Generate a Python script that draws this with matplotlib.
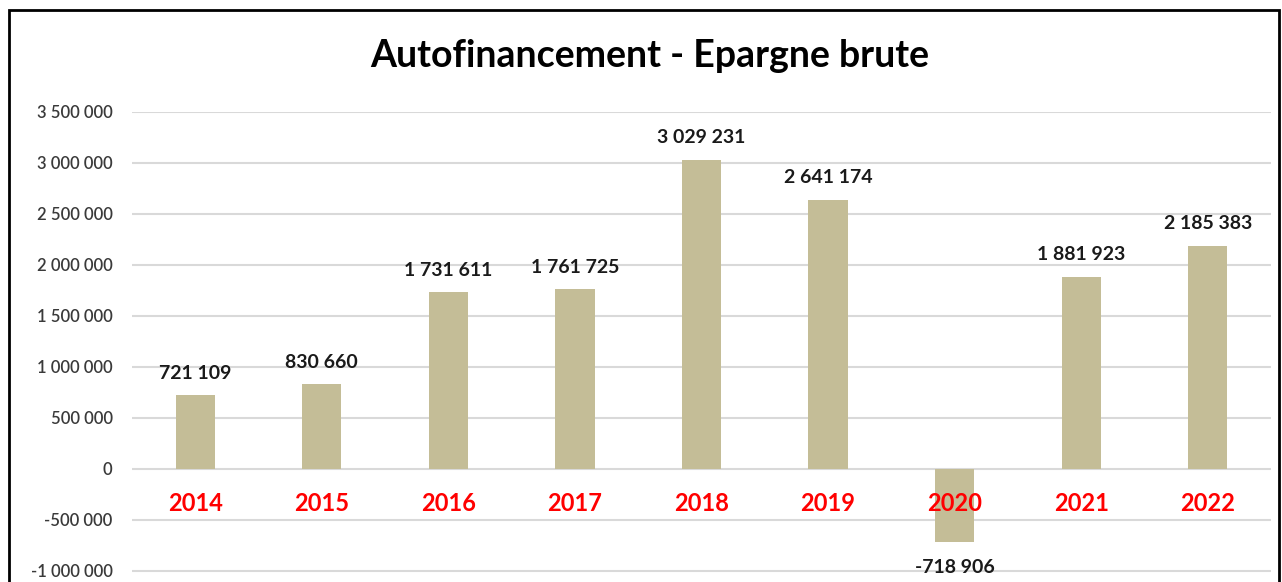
import matplotlib
matplotlib.use("Agg")
import matplotlib.pyplot as plt
from matplotlib.patches import Rectangle
from matplotlib.ticker import FuncFormatter

years  = ["2014", "2015", "2016", "2017", "2018", "2019", "2020", "2021", "2022"]
values = [721109, 830660, 1731611, 1761725, 3029231, 2641174, -718906, 1881923, 2185383]
yticks = [-1000000, -500000, 0, 500000, 1000000, 1500000, 2000000, 2500000, 3000000, 3500000]

title     = "Autofinancement - Epargne brute"
bar_color = "#C4BD97"


def fmt(v):
    return f"{int(v):,}".replace(",", " ")


plt.rcParams["font.family"] = ["Lato", "DejaVu Sans"]

fig = plt.figure(figsize=(12.82, 5.82), dpi=100)
ax = fig.add_axes([132 / 1282, 0.0, (1271 - 132) / 1282, 1 - 112 / 582])

x = range(len(years))
ax.bar(x, values, width=0.31, color=bar_color, zorder=3)

ax.set_xlim(-0.5, len(years) - 0.5)
ax.set_ylim(-1108000, 3500000)
ax.set_yticks(yticks)
ax.yaxis.set_major_formatter(FuncFormatter(lambda v, p: fmt(v)))
ax.set_xticks([])
ax.tick_params(axis="y", length=0, pad=14, labelsize=12, labelcolor="#3a3a3a")
for lab in ax.get_yticklabels():
    lab.set_fontweight("semibold")
ax.grid(axis="y", color="#D9D9D9", linewidth=1.5, zorder=0)
for s in ax.spines.values():
    s.set_visible(False)

# value labels
for i, v in enumerate(values):
    off = 16 if v >= 0 else -18
    ax.annotate(fmt(v), (i, v), xytext=(0, off), textcoords="offset points",
                ha="center", va="center", fontsize=14, fontweight="bold",
                color="#1a1a1a", zorder=5)

# year labels under the zero line
for i, yr in enumerate(years):
    ax.text(i, -340000, yr, ha="center", va="center", fontsize=17,
            fontweight="bold", color="#FF0000", zorder=4)

fig.text(650 / 1282, 1 - 56 / 582, title, ha="center", va="center",
         fontsize=27, fontweight="bold", color="black")

# chart frame
fig.patches.append(Rectangle((9 / 1282, -0.05), 1270 / 1282, 1.05 - 10 / 582,
                             transform=fig.transFigure, fill=False,
                             edgecolor="black", linewidth=2))

fig.savefig("out.png", dpi=100)
